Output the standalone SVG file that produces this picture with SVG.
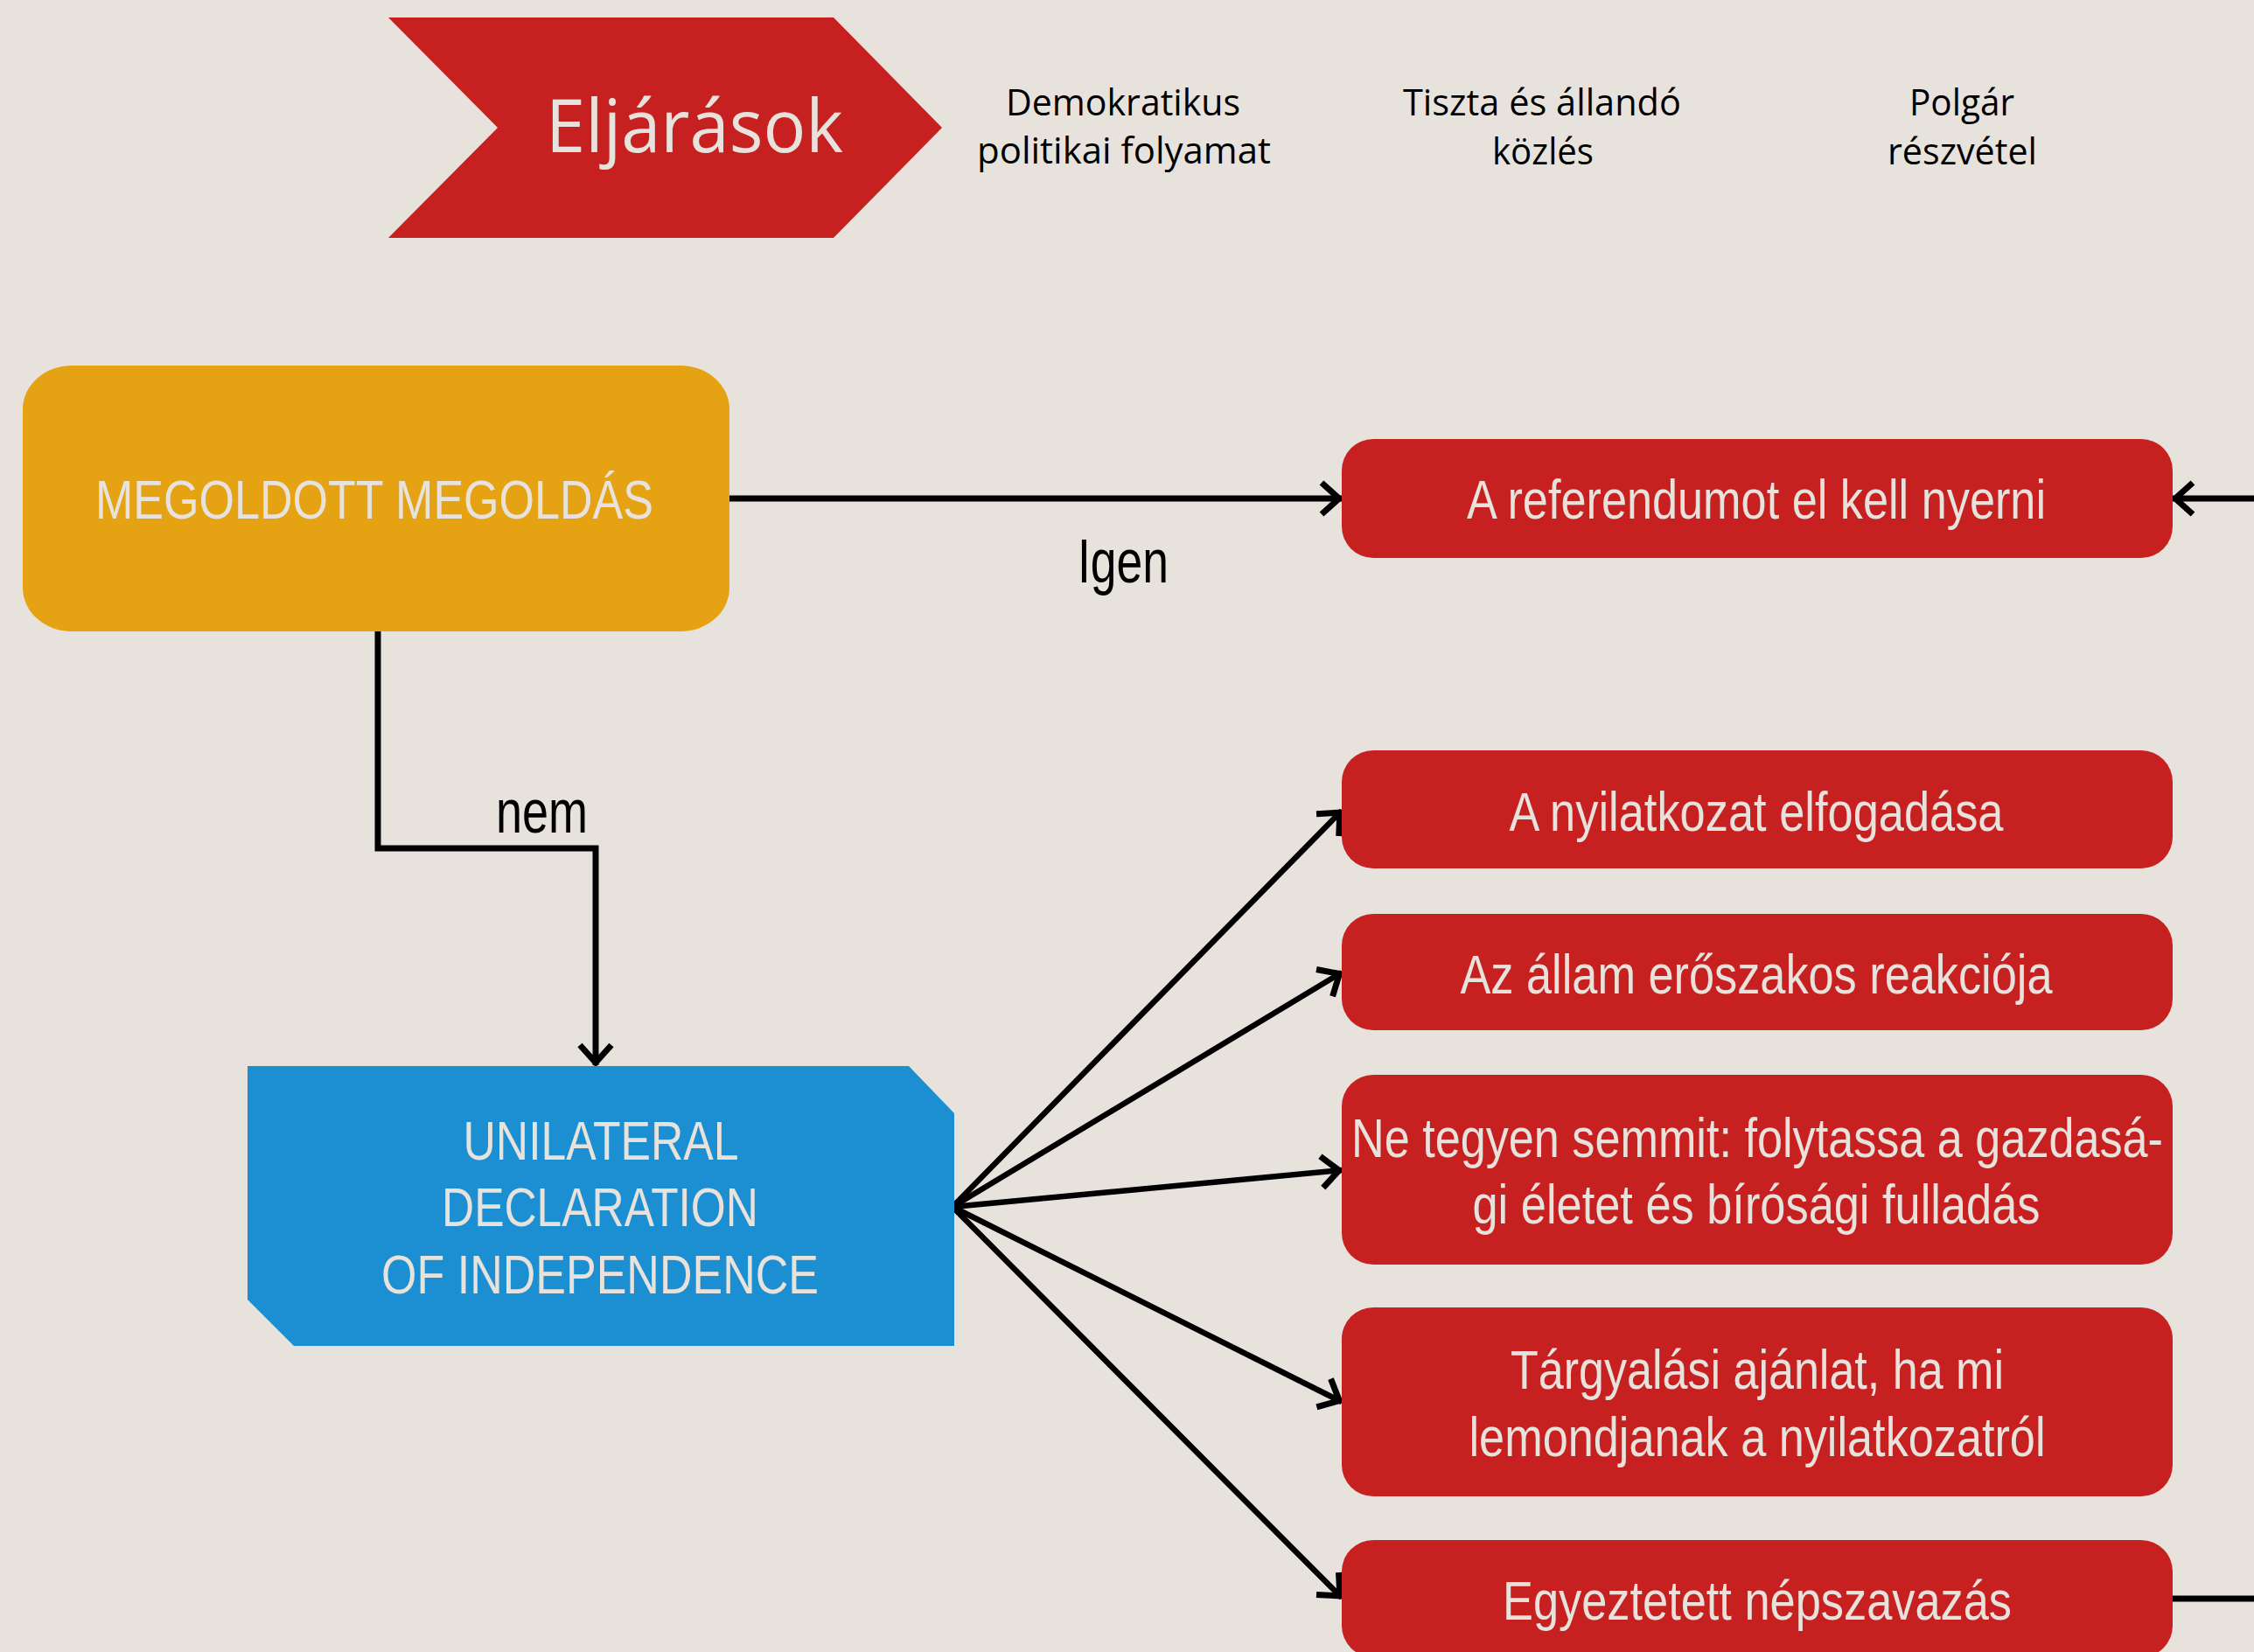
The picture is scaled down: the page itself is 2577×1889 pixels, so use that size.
<svg xmlns="http://www.w3.org/2000/svg" width="2577" height="1889" viewBox="0 0 2577 1889">
  <defs>
    <style>
      .bg { fill: #E8E2DD; }
      .red { fill: #C72020; }
      .orange { fill: #E5A213; }
      .blue { fill: #1B8FD1; }
      .lt { fill: #E8E2DD; font-family: "Liberation Sans", Arial, sans-serif; font-size: 63px; text-anchor: middle; }
      .hdr { fill: #000000; font-family: "Open Sans", "Noto Sans", sans-serif; font-size: 42px; text-anchor: start; }
      .lbl { fill: #000000; font-family: "Liberation Sans", Arial, sans-serif; font-size: 70px; }
      .conn { fill: none; stroke: #000000; stroke-width: 7; }
      .fan { fill: none; stroke: #000000; stroke-width: 6.5; }
    </style>
    <marker id="arr" markerUnits="userSpaceOnUse" viewBox="-30 -22 34 44" markerWidth="34" markerHeight="44" refX="0" refY="0" orient="auto" overflow="visible">
      <path d="M-23,-18 L-3,0 L-23,18" fill="none" stroke="#000000" stroke-width="7"/>
    </marker>
  </defs>

  <rect class="bg" x="0" y="0" width="2577" height="1889"/>

  <g id="header">
    <g id="eljarasok">
      <polygon class="red" points="444,20 953,20 1077,146 953,272 444,272 569,146"/>
      <text x="624" y="174" style="fill:#E8E2DD;font-family:'Open Sans','Noto Sans',sans-serif;font-size:85px" textLength="340" lengthAdjust="spacingAndGlyphs">Eljárások</text>
    </g>
    <g id="hdr-demokratikus">
      <text class="hdr" x="1150" y="132" textLength="268" lengthAdjust="spacingAndGlyphs">Demokratikus</text>
      <text class="hdr" x="1117" y="187" textLength="336" lengthAdjust="spacingAndGlyphs">politikai folyamat</text>
    </g>
    <g id="hdr-tiszta">
      <text class="hdr" x="1604" y="132" textLength="318" lengthAdjust="spacingAndGlyphs">Tiszta és állandó</text>
      <text class="hdr" x="1706" y="188" textLength="116" lengthAdjust="spacingAndGlyphs">közlés</text>
    </g>
    <g id="hdr-polgar">
      <text class="hdr" x="2183" y="132" textLength="120" lengthAdjust="spacingAndGlyphs">Polgár</text>
      <text class="hdr" x="2158" y="188" textLength="171" lengthAdjust="spacingAndGlyphs">részvétel</text>
    </g>
  </g>

  <g id="connectors">
    <line class="conn" x1="834" y1="570" x2="1534" y2="570" marker-end="url(#arr)"/>
    <line class="conn" x1="2577" y1="570" x2="2484" y2="570" marker-end="url(#arr)"/>
    <polyline class="conn" points="432,722 432,970 681,970 681,1218" marker-end="url(#arr)"/>
    <line class="fan" x1="1089" y1="1380" x2="1534" y2="927" marker-end="url(#arr)"/>
    <line class="fan" x1="1089" y1="1380" x2="1534" y2="1112" marker-end="url(#arr)"/>
    <line class="fan" x1="1089" y1="1380" x2="1534" y2="1338" marker-end="url(#arr)"/>
    <line class="fan" x1="1089" y1="1380" x2="1534" y2="1603" marker-end="url(#arr)"/>
    <line class="fan" x1="1089" y1="1380" x2="1534" y2="1827" marker-end="url(#arr)"/>
    <line class="conn" x1="2484" y1="1828" x2="2577" y2="1828"/>
    <text class="lbl" x="1232" y="666" textLength="104" lengthAdjust="spacingAndGlyphs">Igen</text>
    <text class="lbl" x="567" y="952" textLength="105" lengthAdjust="spacingAndGlyphs">nem</text>
  </g>

  <g id="megoldott">
    <rect class="orange" x="26" y="418" width="808" height="304" rx="56" ry="50"/>
    <text class="lt" x="428" y="593" textLength="638" lengthAdjust="spacingAndGlyphs">MEGOLDOTT MEGOLDÁS</text>
  </g>

  <g id="unilateral">
    <polygon class="blue" points="283,1219 1039,1219 1091,1273 1091,1539 336,1539 283,1486"/>
    <text class="lt" x="687" y="1326" textLength="315" lengthAdjust="spacingAndGlyphs">UNILATERAL</text>
    <text class="lt" x="686" y="1402" textLength="362" lengthAdjust="spacingAndGlyphs">DECLARATION</text>
    <text class="lt" x="686" y="1479" textLength="500" lengthAdjust="spacingAndGlyphs">OF INDEPENDENCE</text>
  </g>

  <g id="referendum">
    <rect class="red" x="1534" y="502" width="950" height="136" rx="36" ry="36"/>
    <text class="lt" x="2008" y="593" textLength="662" lengthAdjust="spacingAndGlyphs">A referendumot el kell nyerni</text>
  </g>

  <g id="nyilatkozat">
    <rect class="red" x="1534" y="858" width="950" height="135" rx="36" ry="36"/>
    <text class="lt" x="2008" y="950" textLength="565" lengthAdjust="spacingAndGlyphs">A nyilatkozat elfogadása</text>
  </g>

  <g id="allam">
    <rect class="red" x="1534" y="1045" width="950" height="133" rx="36" ry="36"/>
    <text class="lt" x="2008" y="1136" textLength="677" lengthAdjust="spacingAndGlyphs">Az állam erőszakos reakciója</text>
  </g>

  <g id="ne-tegyen">
    <rect class="red" x="1534" y="1229" width="950" height="217" rx="36" ry="36"/>
    <text class="lt" x="2009" y="1323" textLength="928" lengthAdjust="spacingAndGlyphs">Ne tegyen semmit: folytassa a gazdasá-</text>
    <text class="lt" x="2008" y="1399" textLength="649" lengthAdjust="spacingAndGlyphs">gi életet és bírósági fulladás</text>
  </g>

  <g id="targyalasi">
    <rect class="red" x="1534" y="1495" width="950" height="216" rx="36" ry="36"/>
    <text class="lt" x="2009" y="1588" textLength="564" lengthAdjust="spacingAndGlyphs">Tárgyalási ajánlat, ha mi</text>
    <text class="lt" x="2009" y="1665" textLength="659" lengthAdjust="spacingAndGlyphs">lemondjanak a nyilatkozatról</text>
  </g>

  <g id="egyeztetett">
    <rect class="red" x="1534" y="1761" width="950" height="134" rx="36" ry="36"/>
    <text class="lt" x="2009" y="1852" textLength="582" lengthAdjust="spacingAndGlyphs">Egyeztetett népszavazás</text>
  </g>
</svg>
